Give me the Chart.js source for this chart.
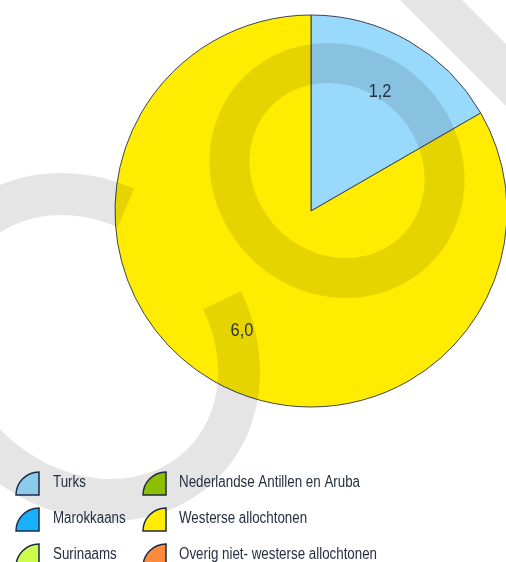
<!DOCTYPE html>
<html>
<head>
<meta charset="utf-8">
<script src="https://cdn.jsdelivr.net/npm/chart.js@4.4.1/dist/chart.umd.min.js"></script>
<style>
  html, body { margin: 0; padding: 0; background: #ffffff; overflow: hidden; }
  #wrap { width: 506px; height: 562px; position: relative; }
</style>
</head>
<body>
<div id="wrap"><canvas id="c" width="506" height="562"></canvas></div>
<script>
// ---- data ----
const categories = [
  'Turks',
  'Marokkaans',
  'Surinaams',
  'Nederlandse Antillen en Aruba',
  'Westerse allochtonen',
  'Overig niet- westerse allochtonen'
];
const values = [1.2, 0, 0, 0, 6.0, 0];
const sliceColors = ['#99D9FB', '#1BB0FA', '#CCFF4D', '#8CBF00', '#FFEC00', '#FF8A3D'];
const legendColors = ['#8DCBEA', '#1BB0FA', '#CCFF4D', '#8CBF00', '#FFEC00', '#FF8A3D'];

const FONT = "'Liberation Sans', Arial, sans-serif";
const TEXT_COLOR = '#263040';

function fmt(v) { return v.toFixed(1).replace('.', ','); }

// watermark drawn over the pie (semi-transparent)
const watermarkPlugin = {
  id: 'watermark',
  afterDatasetsDraw(chart) {
    const ctx = chart.ctx;
    ctx.save();
    ctx.strokeStyle = 'rgba(0,0,0,0.1)';
    ctx.lineCap = 'butt';
    const d = Math.PI / 180;
    // large open ring on the left
    ctx.lineWidth = 42;
    ctx.beginPath();
    ctx.ellipse(86, 347, 165, 140, Math.PI / 4, -67.5 * d, 244.8 * d, false);
    ctx.stroke();
    // closed ring inside the pie
    ctx.lineWidth = 40;
    ctx.beginPath();
    ctx.ellipse(337, 170.5, 112, 103, Math.PI / 4, 0, Math.PI * 2, false);
    ctx.stroke();
    // diagonal band top-right
    ctx.lineWidth = 44;
    ctx.beginPath();
    ctx.moveTo(371, -60);
    ctx.lineTo(631, 200);
    ctx.stroke();
    ctx.restore();
  }
};

const labelsPlugin = {
  id: 'sliceLabels',
  afterDraw(chart) {
    const ctx = chart.ctx;
    const meta = chart.getDatasetMeta(0);
    ctx.save();
    ctx.fillStyle = TEXT_COLOR;
    ctx.font = '19px ' + FONT;
    ctx.textAlign = 'center';
    ctx.textBaseline = 'middle';
    meta.data.forEach((arc, i) => {
      const v = values[i];
      if (!v) return;
      const p = arc.getProps(['x', 'y', 'startAngle', 'endAngle', 'outerRadius'], true);
      const mid = (p.startAngle + p.endAngle) / 2;
      const r = p.outerRadius * 0.705;
      const x = p.x + Math.cos(mid) * r;
      const y = p.y + Math.sin(mid) * r;
      ctx.save();
      ctx.translate(x, y);
      ctx.scale(0.86, 1);
      ctx.fillText(fmt(v), 0, 0);
      ctx.restore();
    });
    ctx.restore();

    // legend
    ctx.save();
    const colIcon = [16, 143];
    const colText = [53, 179];
    const rowTop = [472, 508, 544];
    const size = 23;
    categories.forEach((name, i) => {
      const col = Math.floor(i / 3);
      const row = i % 3;
      const ix = colIcon[col];
      const iy = rowTop[row];
      const cx = ix + size, cy = iy + size;
      ctx.beginPath();
      ctx.moveTo(cx, cy);
      ctx.lineTo(cx - size, cy);
      ctx.arc(cx, cy, size, Math.PI, Math.PI * 1.5, false);
      ctx.closePath();
      ctx.fillStyle = legendColors[i];
      ctx.fill();
      ctx.lineWidth = 1.5;
      ctx.strokeStyle = '#1E2B45';
      ctx.stroke();

      ctx.save();
      ctx.fillStyle = TEXT_COLOR;
      ctx.font = '16px ' + FONT;
      ctx.textAlign = 'left';
      ctx.textBaseline = 'alphabetic';
      ctx.translate(colText[col], iy + 15);
      ctx.scale(0.834, 1);
      ctx.fillText(name, 0, 0);
      ctx.restore();
    });
    ctx.restore();
  }
};

new Chart(document.getElementById('c'), {
  type: 'pie',
  data: {
    labels: categories,
    datasets: [{
      data: values,
      backgroundColor: sliceColors,
      borderColor: '#3B4454',
      borderWidth: 1,
      radius: 196,
      hoverOffset: 0
    }]
  },
  options: {
    responsive: false,
    animation: false,
    layout: { padding: { left: 116, right: 0, top: 15, bottom: 155 } },
    plugins: {
      legend: { display: false },
      tooltip: { enabled: false }
    }
  },
  plugins: [watermarkPlugin, labelsPlugin]
});
</script>
</body>
</html>
